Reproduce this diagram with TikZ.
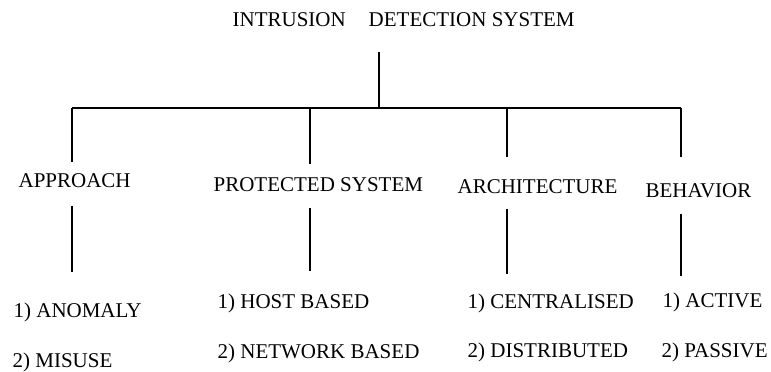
\documentclass[tikz,border=0pt]{standalone}
\usepackage{fontspec}
\setmainfont{Liberation Serif}
\begin{document}
\begin{tikzpicture}[x=1pt,y=-1pt,line width=1.2pt,
   lbl/.style={anchor=base west,inner sep=0pt,text height=14pt,text depth=4pt,font=\fontsize{21}{25}\selectfont}]
   \useasboundingbox (0,0) rectangle (771,372);
   % title and the bar
   \node[lbl] (ids) at (232,26) {INTRUSION\hspace{23pt}DETECTION SYSTEM};
   \coordinate (hub) at (379,108);
   \coordinate (j1) at (72,108);
   \coordinate (j2) at (310,108);
   \coordinate (j3) at (507,108);
   \coordinate (j4) at (681,108);
   \draw[shorten <=21pt] (ids.south -| hub) -- (hub);
   \draw (j1) -- (j4);
   % second row
   \node[lbl] (approach) at (18,187) {APPROACH};
   \node[lbl] (protected) at (213,191) {PROTECTED SYSTEM};
   \node[lbl] (architecture) at (457,193) {ARCHITECTURE};
   \node[lbl] (behavior) at (645,197) {BEHAVIOR};
   \draw[shorten >=10pt] (j1) -- (j1 |- approach.north);
   \draw[shorten >=12pt] (j2) -- (j2 |- protected.north);
   \draw[shorten >=21pt] (j3) -- (j3 |- architecture.north);
   \draw[shorten >=25pt] (j4) -- (j4 |- behavior.north);
   % leaves
   \node[lbl] (anomaly) at (13,317) {1) ANOMALY};
   \node[lbl] (misuse) at (12,367) {2) MISUSE};
   \node[lbl] (host) at (217,308) {1) HOST BASED};
   \node[lbl] (network) at (217,358) {2) NETWORK BASED};
   \node[lbl] (central) at (467,308) {1) CENTRALISED};
   \node[lbl] (distrib) at (467,357) {2) DISTRIBUTED};
   \node[lbl] (active) at (662,307) {1) ACTIVE};
   \node[lbl] (passive) at (661,357) {2) PASSIVE};
   \draw[shorten <=14pt,shorten >=30pt] (approach.south -| j1) -- (anomaly.north -| j1);
   \draw[shorten <=12pt,shorten >=22pt] (protected.south -| j2) -- (host.north -| j2);
   \draw[shorten <=11pt,shorten >=19pt] (architecture.south -| j3) -- (central.north -| j3);
   \draw[shorten <=12pt,shorten >=16pt] (behavior.south -| j4) -- (active.north -| j4);
\end{tikzpicture}
\end{document}
